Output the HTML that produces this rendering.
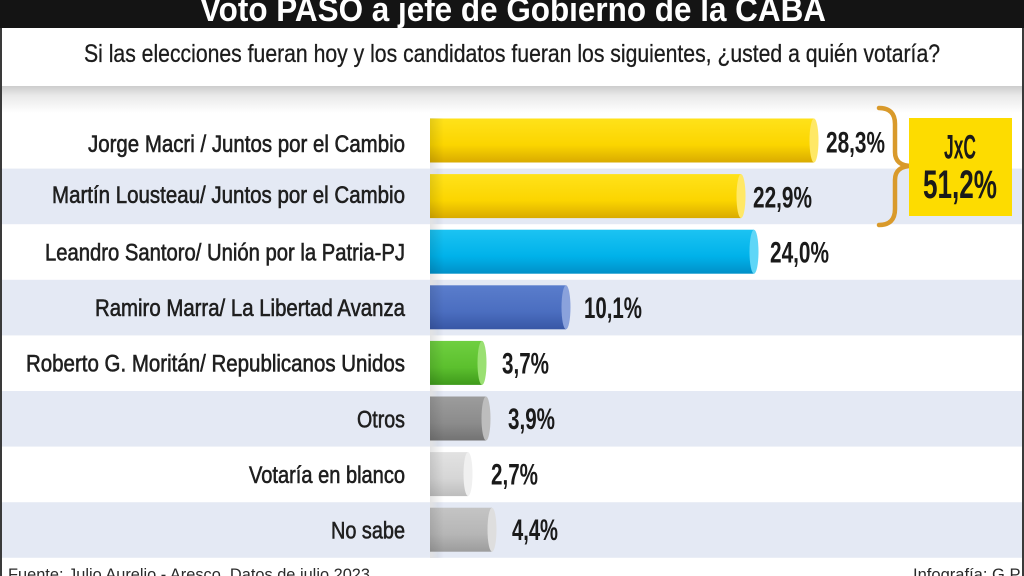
<!DOCTYPE html>
<html><head><meta charset="utf-8"><style>
html,body{margin:0;padding:0;background:#fff}
svg{display:block}
</style></head><body>
<svg width="1024" height="576" viewBox="0 0 1024 576" xmlns="http://www.w3.org/2000/svg" font-family="'Liberation Sans', sans-serif">
<defs>
<linearGradient id="band" x1="0" y1="0" x2="0" y2="1"><stop offset="0" stop-color="#cdcdcd"/><stop offset="0.35" stop-color="#e9e9e9"/><stop offset="1" stop-color="#ffffff"/></linearGradient>
<linearGradient id="gy" x1="0" y1="0" x2="0" y2="1"><stop offset="0" stop-color="#ffe21a"/><stop offset="0.6" stop-color="#fbd500"/><stop offset="1" stop-color="#d9ab00"/></linearGradient>
<linearGradient id="gc" x1="0" y1="0" x2="0" y2="1"><stop offset="0" stop-color="#1cc3f2"/><stop offset="0.6" stop-color="#00b2ea"/><stop offset="1" stop-color="#0090c8"/></linearGradient>
<linearGradient id="gb" x1="0" y1="0" x2="0" y2="1"><stop offset="0" stop-color="#5a7dcc"/><stop offset="0.6" stop-color="#4b6ec0"/><stop offset="1" stop-color="#3857a6"/></linearGradient>
<linearGradient id="gg" x1="0" y1="0" x2="0" y2="1"><stop offset="0" stop-color="#6fcf40"/><stop offset="0.6" stop-color="#5cc02e"/><stop offset="1" stop-color="#3f9a1c"/></linearGradient>
<linearGradient id="g1" x1="0" y1="0" x2="0" y2="1"><stop offset="0" stop-color="#9c9c9c"/><stop offset="0.6" stop-color="#8c8c8c"/><stop offset="1" stop-color="#737373"/></linearGradient>
<linearGradient id="g2" x1="0" y1="0" x2="0" y2="1"><stop offset="0" stop-color="#e2e2e2"/><stop offset="0.6" stop-color="#d6d6d6"/><stop offset="1" stop-color="#bdbdbd"/></linearGradient>
<linearGradient id="g3" x1="0" y1="0" x2="0" y2="1"><stop offset="0" stop-color="#c4c4c4"/><stop offset="0.6" stop-color="#b6b6b6"/><stop offset="1" stop-color="#9c9c9c"/></linearGradient>
<linearGradient id="lshade" x1="0" y1="0" x2="1" y2="0"><stop offset="0" stop-color="#000" stop-opacity="0.18"/><stop offset="1" stop-color="#000" stop-opacity="0"/></linearGradient>
<linearGradient id="strip" x1="0" y1="0" x2="1" y2="0"><stop offset="0" stop-color="#fff" stop-opacity="0.9"/><stop offset="1" stop-color="#fff" stop-opacity="0"/></linearGradient>
</defs>

<rect x="0" y="0" width="1024" height="28" fill="#141414"/>
<text x="200" y="21" font-size="34" font-weight="bold" fill="#ffffff" textLength="626" lengthAdjust="spacingAndGlyphs">Voto PASO a jefe de Gobierno de la CABA</text>

<text x="84" y="62" font-size="25" fill="#1c1c1c" stroke="#1c1c1c" stroke-width="0.3" textLength="856" lengthAdjust="spacingAndGlyphs">Si las elecciones fueran hoy y los candidatos fueran los siguientes, ¿usted a quién votaría?</text>

<rect x="0" y="86" width="1024" height="27" fill="url(#band)"/>

<rect x="0" y="168.6" width="1024" height="55.6" fill="#e4e9f4"/>
<rect x="0" y="279.8" width="1024" height="55.6" fill="#e4e9f4"/>
<rect x="0" y="391" width="1024" height="55.6" fill="#e4e9f4"/>
<rect x="0" y="502.2" width="1024" height="55.6" fill="#e4e9f4"/>

<rect x="430" y="110" width="8" height="449" fill="url(#strip)"/>

<g>
<rect x="430" y="118.5" width="384" height="44" fill="url(#gy)"/>
<ellipse cx="814" cy="140.5" rx="4.5" ry="22" fill="#ffe866"/>
<rect x="430" y="174.1" width="311" height="44" fill="url(#gy)"/>
<ellipse cx="741" cy="196.1" rx="4.5" ry="22" fill="#ffe866"/>
<rect x="430" y="229.7" width="324" height="44" fill="url(#gc)"/>
<ellipse cx="754" cy="251.7" rx="4.5" ry="22" fill="#5fd6f7"/>
<rect x="430" y="285.3" width="136" height="44" fill="url(#gb)"/>
<ellipse cx="566" cy="307.3" rx="4.5" ry="22" fill="#8aa2dc"/>
<rect x="430" y="340.9" width="52" height="44" fill="url(#gg)"/>
<ellipse cx="482" cy="362.9" rx="4.5" ry="22" fill="#9ae072"/>
<rect x="430" y="396.5" width="56" height="44" fill="url(#g1)"/>
<ellipse cx="486" cy="418.5" rx="4.5" ry="22" fill="#bdbdbd"/>
<rect x="430" y="452.1" width="38" height="44" fill="url(#g2)"/>
<ellipse cx="468" cy="474.1" rx="4.5" ry="22" fill="#f0f0f0"/>
<rect x="430" y="507.7" width="62" height="44" fill="url(#g3)"/>
<ellipse cx="492" cy="529.7" rx="4.5" ry="22" fill="#dedede"/>
<rect x="430" y="118" width="14" height="440" fill="url(#lshade)" opacity="0.6"/>
</g>

<g font-size="24" fill="#1f1f1f" stroke="#1f1f1f" stroke-width="0.6" text-anchor="start">
<text x="88" y="152" textLength="317" lengthAdjust="spacingAndGlyphs">Jorge Macri / Juntos por el Cambio</text>
<text x="52" y="203" textLength="353" lengthAdjust="spacingAndGlyphs">Martín Lousteau/ Juntos por el Cambio</text>
<text x="45" y="260.5" textLength="360" lengthAdjust="spacingAndGlyphs">Leandro Santoro/ Unión por la Patria-PJ</text>
<text x="95" y="316.1" textLength="310" lengthAdjust="spacingAndGlyphs">Ramiro Marra/ La Libertad Avanza</text>
<text x="26" y="371.7" textLength="379" lengthAdjust="spacingAndGlyphs">Roberto G. Moritán/ Republicanos Unidos</text>
<text x="357" y="427.3" textLength="48" lengthAdjust="spacingAndGlyphs">Otros</text>
<text x="249" y="482.9" textLength="156" lengthAdjust="spacingAndGlyphs">Votaría en blanco</text>
<text x="331" y="538.5" textLength="74" lengthAdjust="spacingAndGlyphs">No sabe</text>
</g>

<g font-size="30" font-weight="bold" fill="#1a1a1a">
<text x="826" y="152.5" textLength="59" lengthAdjust="spacingAndGlyphs">28,3%</text>
<text x="753" y="207.5" textLength="59" lengthAdjust="spacingAndGlyphs">22,9%</text>
<text x="770" y="262.5" textLength="59" lengthAdjust="spacingAndGlyphs">24,0%</text>
<text x="584" y="318" textLength="58" lengthAdjust="spacingAndGlyphs">10,1%</text>
<text x="502" y="373.5" textLength="47" lengthAdjust="spacingAndGlyphs">3,7%</text>
<text x="508" y="429" textLength="47" lengthAdjust="spacingAndGlyphs">3,9%</text>
<text x="491" y="484.5" textLength="47" lengthAdjust="spacingAndGlyphs">2,7%</text>
<text x="512" y="540" textLength="46" lengthAdjust="spacingAndGlyphs">4,4%</text>
</g>

<path d="M879 108 Q895 108 895 124 L895 152 Q895 166 912 166 Q895 166 895 180 L895 209 Q895 225 879 225" fill="none" stroke="#d99a2b" stroke-width="4.5" stroke-linecap="round" stroke-linejoin="round"/>

<rect x="909" y="118" width="103" height="98" fill="#fddc00"/>
<text x="960" y="158.5" font-size="34" font-weight="bold" fill="#1a1a1a" text-anchor="middle" textLength="32" lengthAdjust="spacingAndGlyphs">JxC</text>
<text x="960" y="198" font-size="40" font-weight="bold" fill="#1a1a1a" text-anchor="middle" textLength="74" lengthAdjust="spacingAndGlyphs">51,2%</text>

<text x="8" y="580" font-size="17" fill="#2a2a2a" textLength="362" lengthAdjust="spacingAndGlyphs">Fuente: Julio Aurelio - Aresco. Datos de julio 2023</text>
<text x="913" y="580" font-size="17" fill="#2a2a2a" textLength="110" lengthAdjust="spacingAndGlyphs">Infografía: G.P.</text>

<rect x="0" y="28" width="2" height="548" fill="#3a3a3a"/>
<rect x="1022" y="28" width="2" height="548" fill="#3a3a3a"/>
</svg>
</body></html>
